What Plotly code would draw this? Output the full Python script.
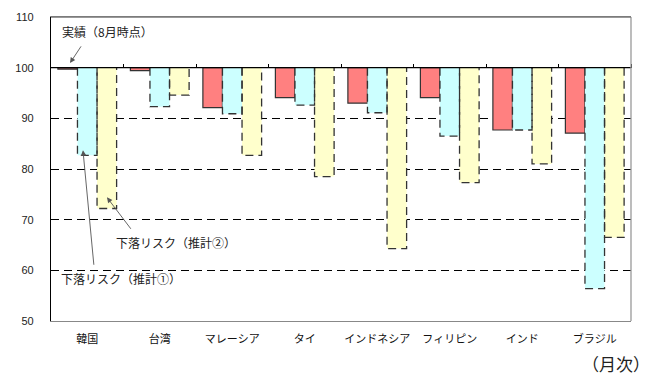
import plotly.graph_objects as go

categories = ["韓国", "台湾", "マレーシア", "タイ", "インドネシア", "フィリピン", "インド", "ブラジル"]
actual = [99.7, 99.4, 92.1, 94.1, 93.0, 94.1, 87.7, 87.1]       # 実績（8月時点）
est1 = [82.7, 92.3, 90.9, 92.6, 91.1, 86.5, 87.7, 56.4]         # 下落リスク（推計①）
est2 = [72.2, 94.6, 82.7, 78.5, 64.3, 77.3, 81.0, 66.5]         # 下落リスク（推計②）
base_value = 100
y_ticks = [50, 60, 70, 80, 90, 100, 110]

FONT = "Noto Sans CJK JP, Noto Sans, sans-serif"
BW = 0.27
offsets = [-BW, 0.0, BW]
fills = ["#FF8080", "#CCFFFF", "#FFFFCC"]
series = [actual, est1, est2]
names = ["実績", "推計①", "推計②"]
EDGE = "#333333"
DASH = "8px,5px"

idx = list(range(len(categories)))
fig = go.Figure()

for s, off, col, nm in zip(series, offsets, fills, names):
    xs = [i + off for i in idx]
    fig.add_trace(go.Bar(
        x=xs, y=[v - base_value for v in s], base=base_value, width=BW,
        marker=dict(color=col, line=dict(color=EDGE, width=1.2) if nm == "実績" else dict(width=0)),
        name=nm, showlegend=False, hoverinfo="skip"))

# dashed outlines for the estimate bars
for s, off in [(est1, offsets[1]), (est2, offsets[2])]:
    ox, oy = [], []
    for i, v in zip(idx, s):
        l, r = i + off - BW / 2, i + off + BW / 2
        ox += [l, l, r, r, None]
        oy += [base_value, v, v, base_value, None]
    fig.add_trace(go.Scatter(x=ox, y=oy, mode="lines",
                             line=dict(color=EDGE, width=1.3, dash=DASH),
                             showlegend=False, hoverinfo="skip"))

# axis line at 100 with boundary ticks (secondary x axis)
fig.add_trace(go.Scatter(x=[-0.5, 7.5], y=[base_value, base_value], mode="lines",
                         line=dict(color="black", width=1.3), showlegend=False, hoverinfo="skip"))
fig.add_trace(go.Scatter(x=[0], y=[base_value], xaxis="x2", mode="markers",
                         marker=dict(opacity=0), showlegend=False, hoverinfo="skip"))

ann = [
    dict(x=0.279, y=107.1, text="実績（8月時点）"),
    dict(x=1.224, y=65.4, text="下落リスク（推計②）"),
    dict(x=0.472, y=58.4, text="下落リスク（推計①）"),
]
annotations = [dict(xref="x", yref="y", x=a["x"], y=a["y"], text=a["text"], showarrow=False,
                    font=dict(family=FONT, size=12, color="#222")) for a in ann]
arrows = [
    ((-0.238, 100.9), (-0.072, 104.5)),
    ((0.272, 74.4), (0.617, 67.9)),
    ((-0.059, 83.7), (0.093, 60.8)),
]
for (hx, hy), (tx, ty) in arrows:
    annotations.append(dict(xref="x", yref="y", axref="x", ayref="y", x=hx, y=hy, ax=tx, ay=ty,
                            text="", showarrow=True, arrowhead=2, arrowsize=1.2, arrowwidth=0.9,
                            arrowcolor="#555"))
annotations.append(dict(xref="paper", yref="paper", x=1.035, y=-0.14, xanchor="right", yanchor="middle",
                        text="（月次）", showarrow=False, borderpad=0,
                        font=dict(family=FONT, size=17, color="#222")))

fig.update_layout(
    width=660, height=381,
    margin=dict(l=51, r=29, t=17, b=60),
    paper_bgcolor="white", plot_bgcolor="white",
    barmode="overlay",
    font=dict(family=FONT, color="#222"),
    xaxis=dict(range=[-0.5, 7.5], tickvals=idx, ticktext=categories, showgrid=False,
               zeroline=False, showline=True, linecolor="#888", linewidth=1, mirror=True,
               ticks="", tickfont=dict(family=FONT, size=11, color="#111"), ticklabelstandoff=8),
    xaxis2=dict(range=[-0.5, 7.5], overlaying="x", anchor="free", position=(base_value - 50) / 60,
                side="top", tickvals=[i + 0.5 for i in idx[:-1]] + [7.5], ticks="outside", ticklen=4,
                tickcolor="black", showticklabels=False, showgrid=False, zeroline=False, showline=False),
    yaxis=dict(range=[50, 110], tickvals=y_ticks, showgrid=True, gridcolor="black", gridwidth=1,
               griddash=DASH, zeroline=False, showline=True, linecolor="black", linewidth=1.3,
               ticks="", tickfont=dict(family="Liberation Sans, Arial", size=11, color="#222"),
               ticklabelstandoff=14),
    shapes=[dict(type="line", xref="paper", yref="paper", x0=1, x1=1, y0=0, y1=1,
                 line=dict(color="#999", width=1.3), layer="above"),
            dict(type="line", xref="paper", yref="paper", x0=0, x1=1, y0=1, y1=1,
                 line=dict(color="#777", width=1.3), layer="above")],
    annotations=annotations,
)

fig.write_html("out.html")
